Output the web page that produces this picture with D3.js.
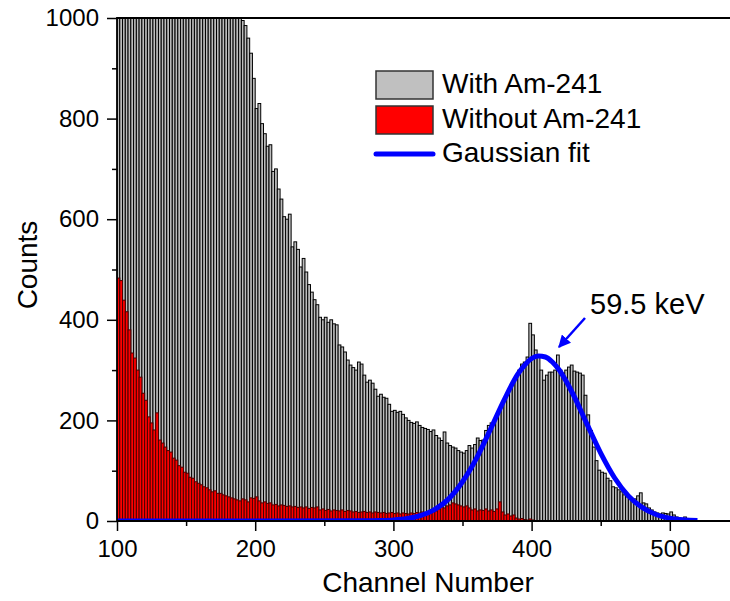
<!DOCTYPE html>
<html>
<head>
<meta charset="utf-8">
<script src="https://cdn.jsdelivr.net/npm/d3@7"></script>
<style>
  body { margin: 0; background: #fff; }
  svg { display: block; font-family: "Liberation Sans", Arial, sans-serif; }
</style>
</head>
<body>
<svg id="chart" width="730" height="601"></svg>
<script>
// spectrum bins, 2 channels wide, starting at channel 100
const binStart = 100;
const binWidth = 2;

// "With Am-241" counts per bin (bins below ~188 run off the top at 1000)
const withAm = [
  1000, 1000, 1000, 1000, 1000, 1000, 1000, 1000, 1000, 1000,
  1000, 1000, 1000, 1000, 1000, 1000, 1000, 1000, 1000, 1000,
  1000, 1000, 1000, 1000, 1000, 1000, 1000, 1000, 1000, 1000,
  1000, 1000, 1000, 1000, 1000, 1000, 1000, 1000, 1000, 1000,
  1000, 1000, 1000, 1000,
  1000, 995, 985, 960, 930, 880, 820, 830, 790, 770,
  745, 748, 695, 700, 660, 640, 605, 600, 610, 545,
  555, 540, 505, 522, 495, 470, 455, 440, 430, 405,
  400, 405, 395, 400, 392, 390, 350, 346, 336, 320,
  310, 305, 300, 316, 312, 290, 276, 280, 274, 262,
  248, 252, 246, 244, 232, 218, 220, 216, 218, 212,
  205, 200, 196, 194, 197, 190, 186, 184, 182, 178,
  181, 170, 165, 160, 177, 155, 150, 147, 145, 140,
  137, 135, 140, 150, 145, 152, 165, 160, 161, 180,
  190, 195, 200, 212, 222, 232, 240, 255, 265, 276,
  286, 300, 312, 316, 326, 393, 370, 340, 326, 300,
  280, 290, 296, 296, 300, 330, 300, 294, 300, 306,
  310, 298, 296, 294, 290, 250, 211, 180, 147, 120,
  101, 97, 95, 85, 80, 68, 66, 62, 58, 52,
  48, 45, 42, 44, 50, 56, 36, 34, 26, 22,
  18, 16, 14, 16, 15, 14, 18, 12, 8, 6,
  5, 8, 3, 2, 1, 1, 0
];

// "Without Am-241" counts per bin
const withoutAm = [
  483, 478, 439, 416, 380, 334, 324, 300, 286, 254,
  240, 207, 195, 181, 215, 161, 155, 147, 140, 137,
  125, 121, 110, 107, 97, 95, 87, 85, 78, 75,
  72, 68, 66, 62, 58, 60, 55, 55, 52, 50,
  48, 46, 44, 42, 40, 44, 42, 38, 46, 45,
  48, 40, 36, 38, 35, 36, 32, 33, 30, 32,
  31, 29, 30, 28, 29, 27, 28, 26, 28, 25,
  27, 26, 28, 22, 24, 21, 23, 20, 22, 21,
  20, 22, 19, 21, 20, 18, 19, 17, 18, 19,
  17, 18, 16, 18, 17, 16, 17, 15, 16, 17,
  15, 16, 14, 16, 15, 14, 16, 15, 17, 16,
  18, 17, 18, 16, 19, 20, 24, 28, 26, 30,
  32, 36, 34, 32, 30, 28, 30, 26, 22, 24,
  20, 22, 21, 24, 20, 22, 19, 24, 38, 18,
  12, 14, 10, 12, 6, 4, 5, 3, 2, 4,
  2, 1
];

// Gaussian fit curve
const fitChannels = [100, 200, 280, 290, 300, 310, 320, 330, 340, 350, 360, 370, 380, 390, 395, 400, 405, 410, 415, 420, 430, 440, 450, 460, 470, 480, 490, 500, 510, 520];
const fitCounts   = [0, 0, 0.3, 0.8, 1.9, 4.8, 11, 23, 44, 78, 124, 181, 240, 292, 310, 323, 328, 326, 316, 300, 252, 193, 135, 86, 50, 27, 13, 5.7, 2.3, 0.8];

const xTicks = [100, 200, 300, 400, 500];
const xMinor = [150, 250, 350, 450];
const yTicks = [0, 200, 400, 600, 800, 1000];
const yMinor = [100, 300, 500, 700, 900];

const legendItems = ["With Am-241", "Without Am-241", "Gaussian fit"];
const peakLabel = "59.5 keV";

const svg = d3.select("#chart");
const plotLeft = 117, plotRight = 732, plotTop = 18, plotBottom = 521;

const x = d3.scaleLinear().domain([100, 545]).range([plotLeft, plotRight]);
const y = d3.scaleLinear().domain([0, 1000]).range([plotBottom, plotTop]).clamp(true);

const defs = svg.append("defs");
defs.append("clipPath").attr("id", "plot")
  .append("rect").attr("x", plotLeft).attr("y", plotTop)
  .attr("width", plotRight - plotLeft).attr("height", plotBottom - plotTop);

const plot = svg.append("g").attr("clip-path", "url(#plot)");

const bars = (data, cls, fill, stroke) => {
  plot.append("g").attr("class", cls)
    .selectAll("rect").data(data).join("rect")
    .attr("x", (d, i) => x(binStart + i * binWidth))
    .attr("width", (d, i) => x(binStart + (i + 1) * binWidth) - x(binStart + i * binWidth))
    .attr("y", d => y(d))
    .attr("height", d => plotBottom - y(d))
    .attr("fill", fill)
    .attr("stroke", stroke)
    .attr("stroke-width", 1);
};
bars(withAm, "with", "#bdbdbd", "#000");
bars(withoutAm, "without", "#ff0000", "#4a0000");

const fit = d3.line()
  .x((d, i) => x(fitChannels[i]))
  .y(d => y(d))
  .curve(d3.curveMonotoneX);
plot.append("path")
  .datum(fitCounts)
  .attr("d", fit)
  .attr("fill", "none")
  .attr("stroke", "#0000ff")
  .attr("stroke-width", 5);

// axes
const styleAxis = g => {
  g.select(".domain").remove();
  g.selectAll("line").attr("stroke", "#000").attr("stroke-width", 1.5);
  g.selectAll("text").attr("font-size", 24).attr("fill", "#000")
    .attr("font-family", "'Liberation Sans', Arial, sans-serif");
};

svg.append("g").attr("transform", `translate(0,${plotBottom})`)
  .call(d3.axisBottom(x).tickValues(xTicks).tickSize(10).tickPadding(9).tickFormat(d3.format("d")))
  .call(styleAxis);
svg.append("g").attr("transform", `translate(0,${plotBottom})`)
  .call(d3.axisBottom(x).tickValues(xMinor).tickSize(5).tickFormat(""))
  .call(styleAxis);
svg.append("g").attr("transform", `translate(${plotLeft},0)`)
  .call(d3.axisLeft(y).tickValues(yTicks).tickSize(10).tickPadding(8).tickFormat(d3.format("d")))
  .call(styleAxis);
svg.append("g").attr("transform", `translate(${plotLeft},0)`)
  .call(d3.axisLeft(y).tickValues(yMinor).tickSize(5).tickFormat(""))
  .call(styleAxis);

// frame: left, bottom and top lines
svg.append("path")
  .attr("d", `M${plotRight},${plotTop}H${plotLeft}V${plotBottom}H${plotRight}`)
  .attr("fill", "none").attr("stroke", "#000").attr("stroke-width", 1.8);

svg.append("text")
  .attr("x", 428).attr("y", 592)
  .attr("text-anchor", "middle").attr("font-size", 28)
  .text("Channel Number");
svg.append("text")
  .attr("transform", "translate(37,265) rotate(-90)")
  .attr("text-anchor", "middle").attr("font-size", 28)
  .text("Counts");

// legend
const legend = svg.append("g").attr("transform", "translate(376,71)");
legend.append("rect").attr("width", 57).attr("height", 28)
  .attr("fill", "#c0c0c0").attr("stroke", "#333").attr("stroke-width", 1.5);
legend.append("rect").attr("y", 35).attr("width", 57).attr("height", 28)
  .attr("fill", "#ff0000").attr("stroke", "#333").attr("stroke-width", 1.5);
legend.append("line").attr("x1", 0).attr("x2", 57).attr("y1", 83).attr("y2", 83)
  .attr("stroke", "#0000ff").attr("stroke-width", 5).attr("stroke-linecap", "round");
legend.selectAll("text.item").data(legendItems).join("text")
  .attr("class", "item")
  .attr("x", 66).attr("y", (d, i) => 22 + i * 34.5)
  .attr("font-size", 28)
  .text(d => d);

// peak annotation
defs.append("marker")
  .attr("id", "head").attr("viewBox", "0 0 10 10")
  .attr("refX", 9).attr("refY", 5)
  .attr("markerWidth", 5).attr("markerHeight", 5)
  .attr("orient", "auto")
  .append("path").attr("d", "M0,0L10,5L0,10Z").attr("fill", "#0000ff");
svg.append("line")
  .attr("x1", 585).attr("y1", 318).attr("x2", 559).attr("y2", 347)
  .attr("stroke", "#0000ff").attr("stroke-width", 2.5)
  .attr("marker-end", "url(#head)");
svg.append("text")
  .attr("x", 590).attr("y", 314).attr("font-size", 29)
  .text(peakLabel);
</script>
</body>
</html>
